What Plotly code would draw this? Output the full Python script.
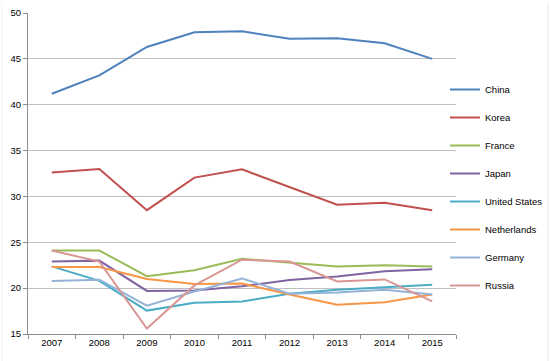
import plotly.graph_objects as go

years = ["2007", "2008", "2009", "2010", "2011", "2012", "2013", "2014", "2015"]

china = [41.2, 43.2, 46.3, 47.9, 48.0, 47.2, 47.25, 46.7, 45.0]
korea = [32.6, 33.0, 28.5, 32.05, 32.95, 31.0, 29.1, 29.3, 28.5]
france = [24.1, 24.1, 21.3, 21.95, 23.2, 22.75, 22.35, 22.5, 22.35]
japan = [22.9, 23.0, 19.7, 19.75, 20.2, 20.9, 21.27, 21.85, 22.05]
united_states = [22.37, 20.8, 17.55, 18.4, 18.55, 19.4, 19.83, 20.08, 20.37]
netherlands = [22.3, 22.3, 21.0, 20.45, 20.5, 19.3, 18.2, 18.45, 19.3]
germany = [20.77, 20.92, 18.08, 19.64, 21.06, 19.4, 19.53, 19.83, 19.3]
russia = [24.1, 22.9, 15.6, 20.3, 23.1, 22.9, 20.73, 20.95, 18.55]

series = [
    ("China", china, "#4F81BD"),
    ("Korea", korea, "#C0504D"),
    ("France", france, "#9BBB59"),
    ("Japan", japan, "#8064A2"),
    ("United States", united_states, "#4BACC6"),
    ("Netherlands", netherlands, "#F79646"),
    ("Germany", germany, "#95B3D7"),
    ("Russia", russia, "#D99694"),
]

fig = go.Figure()
for i, (name, vals, color) in enumerate(series):
    fig.add_trace(go.Scatter(
        x=years, y=vals, name=name, mode="lines",
        line=dict(color=color, width=2),
        legendgroup=f"g{i}",
    ))

font_family = "Liberation Sans, Arial, sans-serif"

W, H = 551, 361
L, R, T, B = 28, 456, 13, 334  # plot area in pixels
pw, ph = R - L, B - T

def px_x(x):
    return (x - L) / pw

def px_y(y):
    return (B - y) / ph

fig.update_layout(
    template="none",
    width=W, height=H,
    margin=dict(l=L, r=W - R, t=T, b=H - B, pad=0, autoexpand=False),
    paper_bgcolor="white", plot_bgcolor="white",
    font=dict(family=font_family, size=9.5, color="#000000"),
    showlegend=True,
    legend=dict(
        x=px_x(445), xanchor="left", y=px_y(75), yanchor="top",
        font=dict(size=9.5, family=font_family, color="#000000"),
        tracegroupgap=9,
        itemwidth=30,
        bgcolor="rgba(0,0,0,0)",
        borderwidth=0,
    ),
    xaxis=dict(
        type="category",
        range=[-0.5, 8.5],
        tickson="boundaries",
        ticks="outside", ticklen=4, tickcolor="#8C8C8C", tickwidth=1,
        showline=True, linecolor="#8C8C8C", linewidth=1,
        showgrid=False, zeroline=False,
        automargin=False,
        tickfont=dict(size=9.5),
    ),
    yaxis=dict(
        range=[15, 50], dtick=5, tick0=15,
        ticks="outside", ticklen=4, tickcolor="#8C8C8C", tickwidth=1,
        showline=True, linecolor="#8C8C8C", linewidth=1,
        showgrid=True, gridcolor="#BFBFBF", gridwidth=1,
        zeroline=False,
        automargin=False,
        tickfont=dict(size=9.5),
    ),
    shapes=[
        dict(type="line", xref="paper", yref="paper",
             x0=px_x(548), x1=px_x(548), y0=px_y(361), y1=px_y(3),
             line=dict(color="#EBEBEB", width=1)),
        dict(type="line", xref="paper", yref="paper",
             x0=px_x(2), x1=px_x(2), y0=px_y(361), y1=px_y(3),
             line=dict(color="#F3F3F3", width=1)),
    ],
)

fig.write_html("out.html", config={"displayModeBar": False},
               post_script="document.body.style.margin='0';")
